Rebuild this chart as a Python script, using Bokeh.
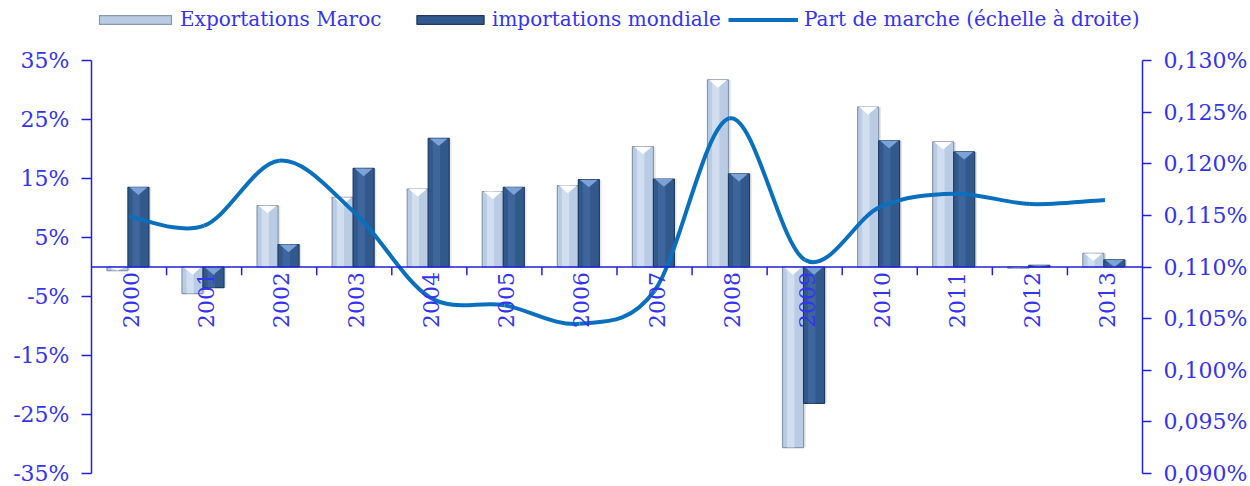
import math
from bokeh.plotting import figure
from bokeh.models import (FactorRange, Range1d, LinearAxis, FixedTicker, PrintfTickFormatter,
                          CustomJSTickFormatter, Legend, LegendItem, Span, ColumnDataSource)
from bokeh.transform import dodge
from bokeh.core.properties import value
from bokeh.embed import file_html
from bokeh.resources import INLINE

# ---------------- data ----------------
years = [str(y) for y in range(2000, 2014)]
exportations_maroc = [-0.6, -4.5, 10.4, 11.8, 13.2, 12.8, 13.8, 20.4, 31.7, -30.6, 27.1, 21.2, -0.2, 2.3]
importations_mondiale = [13.5, -3.5, 3.8, 16.7, 21.8, 13.5, 14.8, 14.9, 15.8, -23.1, 21.4, 19.5, 0.3, 1.2]
part_de_marche = [0.1149, 0.1140, 0.1203, 0.1153, 0.1071, 0.1063, 0.1045, 0.1077,
                  0.1244, 0.1107, 0.1158, 0.1171, 0.1161, 0.1165]
left_ticks = [-35, -25, -15, -5, 5, 15, 25, 35]
right_ticks = [0.090, 0.095, 0.100, 0.105, 0.110, 0.115, 0.120, 0.125, 0.130]
legend_labels = ["Exportations Maroc", "importations mondiale", "Part de marche (échelle à droite)"]

# ---------------- style / layout ----------------
BLUE_TXT = "#3434EE"
BLUE_AX = "#2020E0"
FONT = "DejaVu Serif"
FS = "22px"
YFS = "22px"
LFS = "20px"
LIGHT = "#B9CCE4"
LIGHT_EDGE = "#8797AE"
LIGHT_HI = "#D6E2F1"
DARK = "#32598B"
DARK_EDGE = "#1F3B63"
DARK_HI = "#4169A0"
LINE = "#0A70BE"
BW = 0.28
OFF_E = -0.155
OFF_I = 0.125

W, H = 1250, 486
AX_TOP, AX_BOTTOM = 60, 473          # pixel rows of the top/bottom ticks
L_MIN, L_MAX = left_ticks[0], left_ticks[-1]
R_MIN, R_MAX = right_ticks[0], right_ticks[-1]
# the plot frame reaches the top of the canvas so the legend can sit inside it
l_top = L_MAX + (L_MAX - L_MIN) * AX_TOP / (AX_BOTTOM - AX_TOP)
r_top = R_MAX + (R_MAX - R_MIN) * AX_TOP / (AX_BOTTOM - AX_TOP)

p = figure(width=W, height=H, x_range=FactorRange(*years), y_range=Range1d(L_MIN, l_top),
           x_axis_location=None, output_backend="svg", toolbar_location=None,
           min_border_left=91, min_border_right=107, min_border_top=0, min_border_bottom=H - AX_BOTTOM)
p.outline_line_color = None
p.grid.visible = False
p.background_fill_color = "white"
p.border_fill_color = "white"

p.extra_y_ranges = {"share": Range1d(R_MIN, r_top)}

src = ColumnDataSource(dict(year=years, exp=exportations_maroc, imp=importations_mondiale))

# shadows
for col, off in (("exp", OFF_E), ("imp", OFF_I)):
    p.vbar(x=dodge("year", off + 0.03, range=p.x_range), top=col, bottom=0, width=BW,
           source=src, fill_color="#000000", fill_alpha=0.10, line_color=None)

# bars
r_exp = p.vbar(x=dodge("year", OFF_E, range=p.x_range), top="exp", bottom=0, width=BW,
               source=src, fill_color=LIGHT, line_color=LIGHT_EDGE, line_width=1.2)
p.vbar(x=dodge("year", OFF_E - 0.03, range=p.x_range), top="exp", bottom=0, width=BW * 0.35,
       source=src, fill_color=LIGHT_HI, fill_alpha=0.8, line_color=None)
r_imp = p.vbar(x=dodge("year", OFF_I, range=p.x_range), top="imp", bottom=0, width=BW,
               source=src, fill_color=DARK, line_color=DARK_EDGE, line_width=1.2)
p.vbar(x=dodge("year", OFF_I - 0.03, range=p.x_range), top="imp", bottom=0, width=BW * 0.35,
       source=src, fill_color=DARK_HI, fill_alpha=0.8, line_color=None)

# chevrons on top of bars
def chevrons(vals, off, color):
    xs, ys = [], []
    for i, v in enumerate(vals):
        top = max(v, 0.0)
        h = min(1.3, abs(v))
        c = i + 0.5 + off
        xs.append([c - BW / 2 + 0.02, c + BW / 2 - 0.02, c])
        ys.append([top, top, top - h])
    p.patches(xs, ys, fill_color=color, line_color=None, fill_alpha=0.95)

chevrons(exportations_maroc, OFF_E, "#FFFFFF")
chevrons(importations_mondiale, OFF_I, "#7FA6DA")

# zero line and category ticks
p.add_layout(Span(location=0, dimension="width", line_color=BLUE_AX, line_width=1.5))
p.segment(x0=dodge("year", 0.5, range=p.x_range), y0=0, x1=dodge("year", 0.5, range=p.x_range),
          y1=-1.4, source=ColumnDataSource(dict(year=years[:-1])), line_color=BLUE_AX, line_width=1.5)

# smooth market-share line (cubic Bezier through the data points)
n = len(part_de_marche)
xs_num = [i + 0.5 for i in range(n)]
x0, y0, x1, y1, cx0, cy0, cx1, cy1 = [], [], [], [], [], [], [], []
for i in range(n - 1):
    pm = i - 1 if i > 0 else i
    pp = i + 2 if i + 2 < n else i + 1
    x0.append(xs_num[i]); y0.append(part_de_marche[i])
    x1.append(xs_num[i + 1]); y1.append(part_de_marche[i + 1])
    cx0.append(xs_num[i] + (xs_num[i + 1] - xs_num[pm]) / 6)
    cy0.append(part_de_marche[i] + (part_de_marche[i + 1] - part_de_marche[pm]) / 6)
    cx1.append(xs_num[i + 1] - (xs_num[pp] - xs_num[i]) / 6)
    cy1.append(part_de_marche[i + 1] - (part_de_marche[pp] - part_de_marche[i]) / 6)
r_line = p.bezier(x0=x0, y0=y0, x1=x1, y1=y1, cx0=cx0, cy0=cy0, cx1=cx1, cy1=cy1,
                  y_range_name="share", line_color=LINE, line_width=4)

# year labels along the zero line
p.text(x=years, y=[0] * len(years), text=years, angle=math.pi / 2, text_align="right",
       text_baseline="middle", y_offset=5, x_offset=2, text_font=value(FONT),
       text_font_size=YFS, text_color=BLUE_TXT)

# left axis
ya = p.yaxis[0]
ya.ticker = FixedTicker(ticks=left_ticks)
ya.bounds = (L_MIN, L_MAX)
ya.formatter = PrintfTickFormatter(format="%d%%")
ya.axis_line_color = BLUE_AX
ya.axis_line_width = 1.5
ya.major_tick_line_color = BLUE_AX
ya.major_tick_line_width = 1.5
ya.major_tick_out = 10
ya.major_tick_in = 0
ya.minor_tick_line_color = None
ya.major_label_standoff = 12
ya.major_label_text_font = FONT
ya.major_label_text_font_size = FS
ya.major_label_text_color = BLUE_TXT

# right axis
ra = LinearAxis(y_range_name="share", ticker=FixedTicker(ticks=right_ticks), bounds=(R_MIN, R_MAX),
                formatter=CustomJSTickFormatter(code="return tick.toFixed(3).replace('.', ',') + '%';"))
ra.axis_line_color = BLUE_AX
ra.axis_line_width = 1.5
ra.major_tick_line_color = BLUE_AX
ra.major_tick_line_width = 1.5
ra.major_tick_out = 9
ra.major_tick_in = 0
ra.minor_tick_line_color = None
ra.major_label_standoff = 12
ra.major_label_text_font = FONT
ra.major_label_text_font_size = FS
ra.major_label_text_color = BLUE_TXT
p.add_layout(ra, "right")

# legend entries (three single-item legends along the top)
def add_legend(label, rend, x, gw, standoff):
    leg = Legend(items=[LegendItem(label=label, renderers=[rend])], location=(x, AX_BOTTOM - 31),
                 orientation="horizontal", border_line_color=None, background_fill_alpha=0,
                 glyph_width=gw, glyph_height=11, label_standoff=standoff, padding=0, margin=0,
                 label_text_font=FONT, label_text_font_size=LFS, label_text_color=BLUE_TXT)
    p.add_layout(leg)

add_legend(legend_labels[0], r_exp, -1, 90, 0)
add_legend(legend_labels[1], r_imp, 317, 84, 0)
add_legend(legend_labels[2], r_line, 637, 70, 6)

open("out.html", "w").write(file_html(p, INLINE))
